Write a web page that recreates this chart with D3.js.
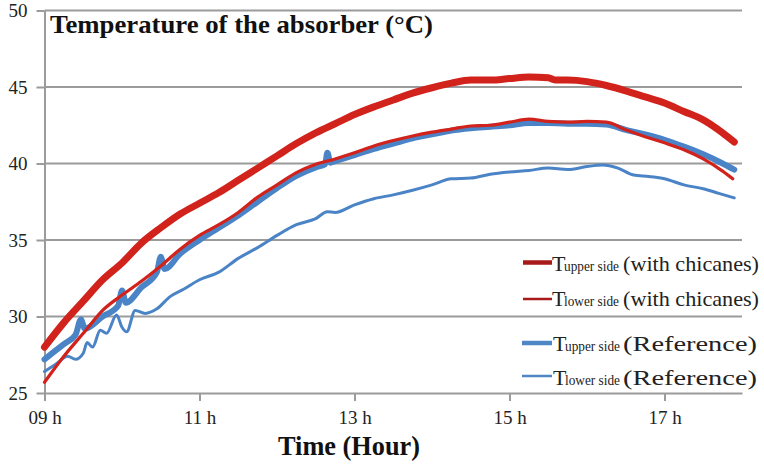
<!DOCTYPE html>
<html>
<head>
<meta charset="utf-8">
<script src="https://cdn.jsdelivr.net/npm/d3@7"></script>
<style>
  html, body { margin: 0; padding: 0; background: #fff; }
  svg { display: block; }
</style>
</head>
<body>
<svg id="chart" width="764" height="465" font-family="Liberation Serif, serif"></svg>
<script>
// ---- data (hours, °C) ----
const yTicks = [25, 30, 35, 40, 45, 50];
const xTicks = [9, 11, 13, 15, 17];
const xTickLabels = ["09 h", "11 h", "13 h", "15 h", "17 h"];

const tUpperChic = [9.0, 9.25, 9.5, 9.75, 10.0, 10.25, 10.5, 10.75, 11.0, 11.25, 11.5, 11.75, 12.0, 12.25, 12.5, 12.75, 13.0, 13.25, 13.5, 13.75, 14.0, 14.25, 14.5, 14.75, 15.0, 15.25, 15.5, 15.6, 15.75, 16.0, 16.25, 16.5, 16.75, 17.0, 17.25, 17.5, 17.75, 17.9];
const vUpperChic = [28.0, 29.6, 31.0, 32.4, 33.5, 34.8, 35.8, 36.7, 37.4, 38.1, 38.9, 39.7, 40.5, 41.3, 42.0, 42.6, 43.2, 43.7, 44.15, 44.6, 44.95, 45.25, 45.45, 45.45, 45.55, 45.65, 45.6, 45.45, 45.45, 45.35, 45.1, 44.75, 44.35, 43.95, 43.4, 42.85, 42.0, 41.4];

const tLowerChic = [9.0, 9.25, 9.5, 9.75, 10.0, 10.25, 10.5, 10.75, 11.0, 11.25, 11.5, 11.75, 12.0, 12.25, 12.5, 12.75, 13.0, 13.25, 13.5, 13.75, 14.0, 14.25, 14.5, 14.75, 15.0, 15.25, 15.5, 15.75, 16.0, 16.25, 16.5, 16.75, 17.0, 17.25, 17.5, 17.75, 17.88];
const vLowerChic = [25.7, 27.4, 28.9, 30.4, 31.4, 32.3, 33.3, 34.4, 35.3, 36.0, 36.8, 37.8, 38.6, 39.4, 39.95, 40.3, 40.7, 41.15, 41.5, 41.8, 42.05, 42.25, 42.45, 42.5, 42.7, 42.9, 42.75, 42.7, 42.75, 42.7, 42.2, 41.75, 41.35, 40.9, 40.3, 39.5, 39.0];

const tUpperRef = [9.0, 9.25, 9.4, 9.47, 9.52, 9.75, 9.95, 10.0, 10.05, 10.25, 10.45, 10.5, 10.55, 10.75, 11.0, 11.25, 11.5, 11.75, 12.0, 12.25, 12.5, 12.62, 12.65, 12.69, 12.75, 13.0, 13.25, 13.5, 13.75, 14.0, 14.25, 14.5, 14.75, 15.0, 15.25, 15.5, 15.75, 16.0, 16.25, 16.5, 16.75, 17.0, 17.25, 17.5, 17.75, 17.9];
const vUpperRef = [27.2, 28.2, 28.8, 29.8, 29.2, 30.0, 30.7, 31.7, 30.9, 31.9, 32.9, 33.9, 33.1, 34.1, 35.0, 35.8, 36.6, 37.5, 38.4, 39.2, 39.75, 39.95, 40.7, 40.05, 40.15, 40.55, 40.95, 41.3, 41.65, 41.9, 42.15, 42.3, 42.4, 42.5, 42.65, 42.65, 42.6, 42.6, 42.55, 42.2, 41.9, 41.55, 41.1, 40.6, 40.0, 39.6];

const tLowerRef = [9.0, 9.15, 9.3, 9.4, 9.5, 9.55, 9.62, 9.72, 9.8, 9.93, 10.0, 10.06, 10.17, 10.3, 10.45, 10.62, 10.8, 11.0, 11.25, 11.5, 11.75, 12.0, 12.25, 12.5, 12.65, 12.75, 13.0, 13.25, 13.5, 13.75, 14.0, 14.25, 14.5, 14.75, 15.0, 15.25, 15.5, 15.75, 16.0, 16.2, 16.4, 16.6, 16.8, 17.0, 17.25, 17.5, 17.7, 17.9];
const vLowerRef = [26.4, 26.9, 27.4, 27.2, 27.6, 28.3, 28.0, 29.1, 28.9, 30.1, 29.3, 29.0, 30.4, 30.2, 30.5, 31.3, 31.8, 32.4, 32.9, 33.8, 34.5, 35.3, 36.0, 36.4, 36.85, 36.8, 37.3, 37.7, 37.95, 38.25, 38.6, 39.0, 39.05, 39.3, 39.45, 39.55, 39.7, 39.6, 39.8, 39.9, 39.7, 39.25, 39.15, 39.0, 38.6, 38.35, 38.05, 37.75];

const legendSubs = ["upper side", "lower side", "upper side", "lower side"];
const legendRests = ["(with chicanes)", "(with chicanes)", "(Reference)", "(Reference)"];

// ---- layout ----
const svg = d3.select("#chart");
const x = d3.scaleLinear().domain([9, 18]).range([44.5, 742]);
const y = d3.scaleLinear().domain([25, 50]).range([393, 10.5]);
const gridColor = "#9b9b9b";
const serif = "Liberation Serif";

// gridlines
svg.append("g").selectAll("line").data(yTicks.filter(d => d > 25)).join("line")
  .attr("x1", x(9)).attr("x2", x(18))
  .attr("y1", d => y(d)).attr("y2", d => y(d))
  .attr("stroke", gridColor).attr("stroke-width", 2);

// y axis
const gy = svg.append("g").attr("transform", `translate(${x(9)},0)`)
  .call(d3.axisLeft(y).tickValues(yTicks).tickSize(8).tickSizeOuter(0).tickPadding(9).tickFormat(d3.format("d")));
gy.attr("font-family", serif).attr("font-size", 19);
gy.select(".domain").attr("stroke", gridColor).attr("stroke-width", 2);
gy.selectAll(".tick line").attr("stroke", gridColor).attr("stroke-width", 2);
gy.selectAll(".tick text").attr("fill", "#222");

// x axis
const gx = svg.append("g").attr("transform", `translate(0,${y(25)})`)
  .call(d3.axisBottom(x).tickValues(xTicks).tickSize(8).tickSizeOuter(0).tickPadding(10)
    .tickFormat((d, i) => xTickLabels[i]));
gx.attr("font-family", serif).attr("font-size", 19);
gx.select(".domain").attr("stroke", gridColor).attr("stroke-width", 2);
gx.selectAll(".tick line").attr("stroke", gridColor).attr("stroke-width", 2);
gx.selectAll(".tick text").attr("fill", "#222");

// lines
const line = d3.line().x(d => x(d[0])).y(d => y(d[1])).curve(d3.curveMonotoneX);
const zip = (t, v) => t.map((d, i) => [d, v[i]]);
const plotSeries = [
  { data: zip(tLowerRef, vLowerRef), color: "#4a84c6", width: 3 },
  { data: zip(tUpperRef, vUpperRef), color: "#4a84c6", width: 6 },
  { data: zip(tLowerChic, vLowerChic), color: "#d2221c", width: 3.2 },
  { data: zip(tUpperChic, vUpperChic), color: "#d2221c", width: 7 }
];
svg.append("g").selectAll("path").data(plotSeries).join("path")
  .attr("d", d => line(d.data))
  .attr("fill", "none")
  .attr("stroke", d => d.color)
  .attr("stroke-width", d => d.width)
  .attr("stroke-linecap", "round")
  .attr("stroke-linejoin", "round");

// title
svg.append("text").attr("x", 50).attr("y", 33)
  .attr("font-family", serif).attr("font-size", 26).attr("font-weight", "bold").attr("fill", "#111")
  .attr("textLength", 383).attr("lengthAdjust", "spacingAndGlyphs")
  .text("Temperature of the absorber (°C)");

// x axis title
svg.append("text").attr("x", 278).attr("y", 455)
  .attr("font-family", serif).attr("font-size", 27).attr("font-weight", "bold").attr("fill", "#111")
  .attr("textLength", 142).attr("lengthAdjust", "spacingAndGlyphs")
  .text("Time (Hour)");

// legend
const legendStyle = [
  { color: "#a81a1a", width: 4.5, ly: 262.5, ty: 270.5, x1: 523, tx: 552, restLen: 136 },
  { color: "#a81a1a", width: 2.5, ly: 299, ty: 305.5, x1: 523, tx: 552, restLen: 136 },
  { color: "#4f86c6", width: 4.5, ly: 343, ty: 351, x1: 522, tx: 553, restLen: 134 },
  { color: "#4f86c6", width: 2.5, ly: 376, ty: 385, x1: 522, tx: 553, restLen: 134 }
];
const lg = svg.append("g").attr("font-family", serif);
legendStyle.forEach((it, i) => {
  lg.append("line").attr("x1", it.x1).attr("x2", 552).attr("y1", it.ly).attr("y2", it.ly)
    .attr("stroke", it.color).attr("stroke-width", it.width);
  const t = lg.append("text").attr("y", it.ty).attr("fill", "#222").attr("font-family", serif).attr("font-size", 22);
  t.append("tspan").attr("x", it.tx).attr("font-family", serif).attr("font-size", 22).text("T");
  t.append("tspan").attr("x", it.tx + 12).attr("font-family", serif).attr("font-size", 14)
    .attr("textLength", 55).attr("lengthAdjust", "spacingAndGlyphs").text(legendSubs[i]);
  t.append("tspan").attr("x", 623).attr("font-family", serif).attr("font-size", 22)
    .attr("textLength", it.restLen).attr("lengthAdjust", "spacingAndGlyphs").text(legendRests[i]);
});
</script>
</body>
</html>
